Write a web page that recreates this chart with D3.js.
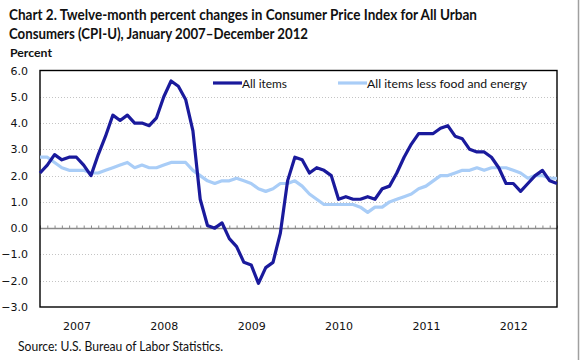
<!DOCTYPE html>
<html>
<head>
<meta charset="utf-8">
<script src="https://cdn.jsdelivr.net/npm/d3@7"></script>
<style>
  body { margin: 0; background: #fff; }
  svg { display: block; }
</style>
</head>
<body>
<div id="chart"></div>
<script>
// data, Jan 2007 - Dec 2012
var years = ["2007", "2008", "2009", "2010", "2011", "2012"];
var monthNames = ["Jan","Feb","Mar","Apr","May","Jun","Jul","Aug","Sep","Oct","Nov","Dec"];
var allItems = [
  2.1, 2.4, 2.8, 2.6, 2.7, 2.7, 2.4, 2.0, 2.8, 3.5, 4.3, 4.1,
  4.3, 4.0, 4.0, 3.9, 4.2, 5.0, 5.6, 5.4, 4.9, 3.7, 1.1, 0.1,
  0.0, 0.2, -0.4, -0.7, -1.3, -1.4, -2.1, -1.5, -1.3, -0.2, 1.8, 2.7,
  2.6, 2.1, 2.3, 2.2, 2.0, 1.1, 1.2, 1.1, 1.1, 1.2, 1.1, 1.5,
  1.6, 2.1, 2.7, 3.2, 3.6, 3.6, 3.6, 3.8, 3.9, 3.5, 3.4, 3.0,
  2.9, 2.9, 2.7, 2.3, 1.7, 1.7, 1.4, 1.7, 2.0, 2.2, 1.8, 1.7
];
var lessFoodEnergy = [
  2.7, 2.7, 2.5, 2.3, 2.2, 2.2, 2.2, 2.1, 2.1, 2.2, 2.3, 2.4,
  2.5, 2.3, 2.4, 2.3, 2.3, 2.4, 2.5, 2.5, 2.5, 2.2, 2.0, 1.8,
  1.7, 1.8, 1.8, 1.9, 1.8, 1.7, 1.5, 1.4, 1.5, 1.7, 1.7, 1.8,
  1.6, 1.3, 1.1, 0.9, 0.9, 0.9, 0.9, 0.9, 0.8, 0.6, 0.8, 0.8,
  1.0, 1.1, 1.2, 1.3, 1.5, 1.6, 1.8, 2.0, 2.0, 2.1, 2.2, 2.2,
  2.3, 2.2, 2.3, 2.3, 2.3, 2.2, 2.1, 1.9, 2.0, 2.0, 1.9, 1.9
];
var yTicks = [-3, -2, -1, 0, 1, 2, 3, 4, 5, 6];

var months = [];
years.forEach(function(y) {
  monthNames.forEach(function(m) { months.push(m + " " + y); });
});

var width = 580, height = 360;
var plot = { left: 40, right: 557, top: 70.5, bottom: 307 };

var svg = d3.select("#chart").append("svg")
  .attr("width", width)
  .attr("height", height);

var x = d3.scalePoint()
  .domain(months)
  .range([plot.left, plot.right]);

var y = d3.scaleLinear()
  .domain([-3, 6])
  .range([plot.bottom, plot.top]);

// title
var title = svg.append("g")
  .style("font-family", "Lato, 'Open Sans', sans-serif")
  .style("font-weight", "bold")
  .style("fill", "#111");
title.append("text").attr("x", 9).attr("y", 19.5)
  .style("font-size", "14.5px")
  .attr("textLength", 468).attr("lengthAdjust", "spacingAndGlyphs")
  .text("Chart 2. Twelve-month percent changes in Consumer Price Index for All Urban");
title.append("text").attr("x", 9).attr("y", 38.5)
  .style("font-size", "14.5px")
  .attr("textLength", 299).attr("lengthAdjust", "spacingAndGlyphs")
  .text("Consumers (CPI-U), January 2007\u2013December 2012");
title.append("text").attr("x", 10).attr("y", 57)
  .style("font-size", "12px")
  .attr("textLength", 42).attr("lengthAdjust", "spacingAndGlyphs")
  .text("Percent");

// gridlines
svg.append("g")
  .selectAll("line")
  .data(yTicks.filter(function(d) { return d != 0 && d != 6 && d != -3; }))
  .enter().append("line")
    .attr("x1", plot.left).attr("x2", plot.right)
    .attr("y1", function(d) { return Math.round(y(d)) + 0.5; })
    .attr("y2", function(d) { return Math.round(y(d)) + 0.5; })
    .style("stroke", "#c4c4c4")
    .style("stroke-dasharray", "1,2");

// y axis labels
var yAxis = d3.axisLeft(y)
  .tickValues(yTicks)
  .tickFormat(d3.format(".1f"))
  .tickSize(0)
  .tickPadding(12);
var yg = svg.append("g")
  .attr("transform", "translate(" + plot.left + ",0)")
  .call(yAxis);
yg.select(".domain").remove();
yg.selectAll("text")
  .style("font-family", "'DejaVu Sans', Verdana, sans-serif")
  .style("font-size", "11px")
  .style("fill", "#111");

// zero line with monthly ticks
var zeroAxis = d3.axisTop(x)
  .tickSize(3)
  .tickFormat("");
var zg = svg.append("g")
  .attr("transform", "translate(0," + (Math.round(y(0)) + 0.5) + ")")
  .call(zeroAxis);
zg.select(".domain").attr("d", "M" + plot.left + ",0H" + plot.right)
  .style("stroke", "#8a8a8a").style("stroke-width", 1.6);
zg.selectAll(".tick line").style("stroke", "#8a8a8a");

// year labels under the plot
var yearAxis = d3.axisBottom(x)
  .tickValues(years.map(function(yr) { return "Jun " + yr; }))
  .tickFormat(function(d) { return d.split(" ")[1]; })
  .tickSize(0)
  .tickPadding(15);
var xg = svg.append("g")
  .attr("transform", "translate(0," + plot.bottom + ")")
  .call(yearAxis);
xg.select(".domain").remove();
xg.selectAll("text")
  .style("font-family", "'DejaVu Sans', Verdana, sans-serif")
  .style("font-size", "11px")
  .style("fill", "#111");

// plot border
svg.append("rect")
  .attr("x", plot.left).attr("y", plot.top)
  .attr("width", plot.right - plot.left)
  .attr("height", plot.bottom - plot.top)
  .style("fill", "none")
  .style("stroke", "#000")
  .style("stroke-width", 1.4);

// lines
var line = d3.line()
  .x(function(d, i) { return x(months[i]); })
  .y(function(d) { return y(d); });

svg.append("path")
  .datum(lessFoodEnergy)
  .attr("d", line)
  .style("fill", "none")
  .style("stroke", "#a9cdf7")
  .style("stroke-width", 3.2)
  .style("stroke-linejoin", "round");

svg.append("path")
  .datum(allItems)
  .attr("d", line)
  .style("fill", "none")
  .style("stroke", "#1a1a9c")
  .style("stroke-width", 3.2)
  .style("stroke-linejoin", "round");

// legend
var legend = svg.append("g")
  .style("font-family", "Lato, 'Open Sans', sans-serif")
  .style("font-size", "12px")
  .style("fill", "#111");
legend.append("line")
  .attr("x1", 213).attr("x2", 242).attr("y1", 83).attr("y2", 83)
  .style("stroke", "#1a1a9c").style("stroke-width", 3.2);
legend.append("text").attr("x", 242).attr("y", 87.5)
  .attr("textLength", 45).attr("lengthAdjust", "spacingAndGlyphs")
  .text("All items");
legend.append("line")
  .attr("x1", 338).attr("x2", 367).attr("y1", 83).attr("y2", 83)
  .style("stroke", "#a9cdf7").style("stroke-width", 3.2);
legend.append("text").attr("x", 367).attr("y", 87.5)
  .attr("textLength", 160).attr("lengthAdjust", "spacingAndGlyphs")
  .text("All items less food and energy");

// source
svg.append("text")
  .attr("x", 18).attr("y", 351)
  .style("font-family", "Lato, 'Open Sans', sans-serif")
  .style("font-size", "12.5px")
  .style("fill", "#111")
  .attr("textLength", 205).attr("lengthAdjust", "spacingAndGlyphs")
  .text("Source: U.S. Bureau of Labor Statistics.");

// outer frame edge on the right
svg.append("line")
  .attr("x1", 578.5).attr("x2", 578.5).attr("y1", 0).attr("y2", height)
  .style("stroke", "#a0a0a0")
  .style("stroke-width", 1.5);
</script>
</body>
</html>
